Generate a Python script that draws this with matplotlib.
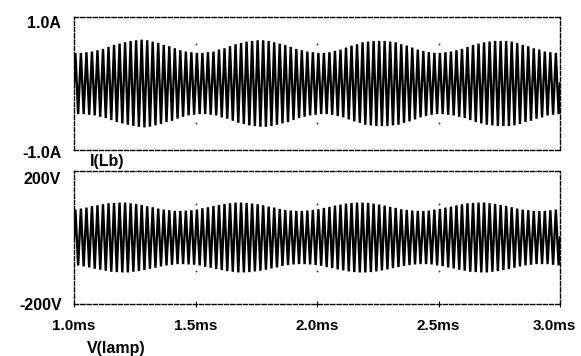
import matplotlib
matplotlib.use("Agg")
import matplotlib.pyplot as plt
import numpy as np

# ---- data ----
t_start_ms, t_end_ms = 1.0, 3.0
n_cycles = 88  # carrier cycles visible between 1.0 ms and 3.0 ms

# I(Lb): peak amplitude of each carrier cycle (A)
i_lb_peaks = [0.46, 0.46, 0.47, 0.48, 0.50, 0.52, 0.55, 0.58, 0.60, 0.62, 0.64, 0.65,
              0.66, 0.65, 0.63, 0.61, 0.58, 0.56, 0.53, 0.50, 0.48, 0.47, 0.46, 0.46,
              0.47, 0.48, 0.51, 0.53, 0.56, 0.59, 0.61, 0.63, 0.64, 0.65, 0.65, 0.64,
              0.62, 0.60, 0.58, 0.55, 0.52, 0.50, 0.48, 0.47, 0.46, 0.46, 0.47, 0.49,
              0.51, 0.54, 0.57, 0.59, 0.62, 0.63, 0.64, 0.64, 0.64, 0.63, 0.62, 0.59,
              0.57, 0.54, 0.51, 0.49, 0.47, 0.46, 0.46, 0.47, 0.48, 0.50, 0.52, 0.55,
              0.58, 0.60, 0.62, 0.63, 0.64, 0.64, 0.64, 0.63, 0.61, 0.58, 0.56, 0.53,
              0.51, 0.48, 0.47, 0.46]

# V(lamp): peak amplitude of each carrier cycle (V)
v_lamp_peaks = [84, 87, 90, 94, 97, 100, 103, 104, 105, 105, 103, 101, 98, 94, 91, 87,
                84, 82, 80, 80, 81, 82, 84, 88, 91, 95, 98, 101, 103, 105, 105, 104,
                102, 100, 97, 93, 90, 86, 83, 81, 80, 80, 81, 83, 85, 89, 92, 96,
                99, 102, 104, 105, 105, 104, 102, 99, 96, 92, 89, 85, 83, 81, 80, 80,
                81, 84, 86, 90, 93, 97, 100, 103, 104, 105, 105, 103, 101, 98, 95, 91,
                87, 84, 82, 80, 80, 80, 82, 84]

top_ylim = (-1.0, 1.0)
bot_ylim = (-200, 200)
top_yticklabels = ["1.0A", "-1.0A"]
bot_yticklabels = ["200V", "-200V"]
x_ticks = [1.0, 1.5, 2.0, 2.5, 3.0]
x_ticklabels = ["1.0ms", "1.5ms", "2.0ms", "2.5ms", "3.0ms"]
grid_x = [1.5, 2.0, 2.5]
top_grid_y = [0.6, -0.6]
bot_grid_y = [100, -100]
top_name = "I(Lb)"
bot_name = "V(lamp)"


def zigzag(peaks):
    period = (t_end_ms - t_start_ms) / n_cycles
    xs, ys = [t_start_ms], [0.0]
    for k, a in enumerate(peaks):
        xs.append(t_start_ms + (k + 0.25) * period)
        ys.append(a)
        xs.append(t_start_ms + (k + 0.75) * period)
        ys.append(-a)
    xs.append(t_end_ms)
    ys.append(0.0)
    return np.array(xs), np.array(ys)


plt.rcParams['font.family'] = ['Liberation Sans', 'DejaVu Sans']
fig = plt.figure(figsize=(5.81, 3.56), dpi=100)
fig.patch.set_facecolor("white")

W, H = 581, 356
def ax_rect(x0, y0, x1, y1):
    return [x0 / W, 1 - y1 / H, (x1 - x0) / W, (y1 - y0) / H]

ax_top = fig.add_axes(ax_rect(74, 17, 560, 150))
ax_bot = fig.add_axes(ax_rect(74, 171, 560, 304))

for ax, peaks, ylim, gy in [(ax_top, i_lb_peaks, top_ylim, top_grid_y),
                            (ax_bot, v_lamp_peaks, bot_ylim, bot_grid_y)]:
    x, y = zigzag(peaks)
    ax.plot(x, y, color="black", lw=1.7, solid_joinstyle="miter")
    gx = [g for g in grid_x for _ in gy]
    gyy = [v for _ in grid_x for v in gy]
    ax.scatter(gx, gyy, s=2, color="#444444", zorder=1, linewidths=0)
    ax.set_xlim(t_start_ms, t_end_ms)
    ax.set_ylim(*ylim)
    ax.set_xticks(x_ticks)
    ax.set_xticklabels([])
    ax.set_yticks([])
    ax.tick_params(axis="x", direction="inout", length=4, width=0.8,
                   top=False, bottom=(ax is ax_bot))
    for s in ax.spines.values():
        s.set_linestyle((0, (3, 1.5)))
        s.set_linewidth(1.0)
        s.set_color("black")

fs_y = 11.5
fs = 11
fig.text(61 / W, 1 - 23 / H, top_yticklabels[0], ha="right", va="center", fontsize=fs_y, fontweight="bold")
fig.text(62 / W, 1 - 153 / H, top_yticklabels[1], ha="right", va="center", fontsize=fs_y, fontweight="bold")
fig.text(61 / W, 1 - 180 / H, bot_yticklabels[0], ha="right", va="center", fontsize=fs_y, fontweight="bold")
fig.text(62 / W, 1 - 305 / H, bot_yticklabels[1], ha="right", va="center", fontsize=fs_y, fontweight="bold")
fig.text(90 / W, 1 - 161 / H, top_name, ha="left", va="center", fontsize=11.5, fontweight="bold")
fig.text(87 / W, 1 - 349 / H, bot_name, ha="left", va="center", fontsize=11.5, fontweight="bold")

for i, (xt, lab) in enumerate(zip(x_ticks, x_ticklabels)):
    xd = ax_bot.transData.transform((xt, 0))[0]
    xf = fig.transFigure.inverted().transform((xd, 0))[0]
    if i == len(x_ticks) - 1:
        fig.text(576 / W, 1 - 326 / H, lab, ha="right", va="center", fontsize=fs, fontweight="bold")
    else:
        fig.text(xf, 1 - 326 / H, lab, ha="center", va="center", fontsize=fs, fontweight="bold")

fig.savefig("out.png", dpi=100, facecolor="white")
